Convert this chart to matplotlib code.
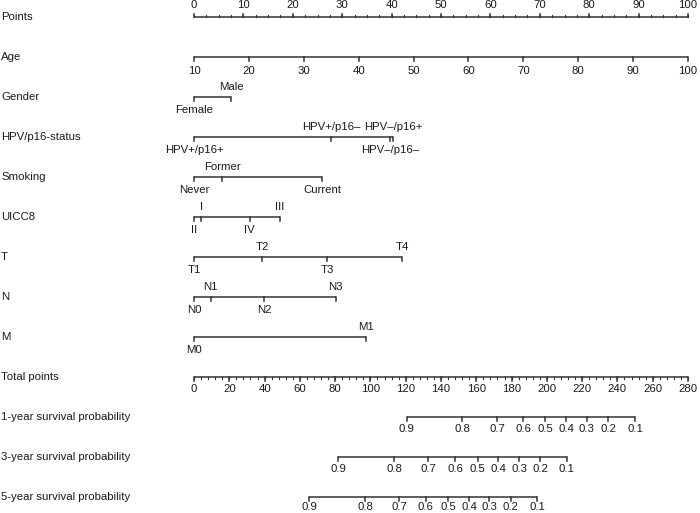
import matplotlib
matplotlib.use('Agg')
import matplotlib.pyplot as plt
import numpy as np

plt.rcParams['font.family'] = ['Liberation Sans', 'DejaVu Sans']

# nomogram rows (top to bottom)
row_names = ['Points', 'Age', 'Gender', 'HPV/p16-status', 'Smoking', 'UICC8',
             'T', 'N', 'M', 'Total points', '1-year survival probability',
             '3-year survival probability', '5-year survival probability']

points_ticks = np.arange(0, 101, 10)
age_values = np.arange(10, 101, 10)

gender_levels = ['Female', 'Male']
gender_points = [0, 7.5]
hpv_levels = ['HPV+/p16+', 'HPV+/p16\u2013', 'HPV\u2013/p16\u2013', 'HPV\u2013/p16+']
hpv_points = [0, 27.7, 39.7, 40.3]
smoking_levels = ['Never', 'Former', 'Current']
smoking_points = [0, 5.7, 26.0]
uicc_levels = ['II', 'I', 'IV', 'III']
uicc_points = [0, 1.5, 11.3, 17.4]
t_levels = ['T1', 'T2', 'T3', 'T4']
t_points = [0, 13.8, 26.9, 42.2]
n_levels = ['N0', 'N1', 'N2', 'N3']
n_points = [0, 3.4, 14.2, 28.7]
m_levels = ['M0', 'M1']
m_points = [0, 34.8]

total_ticks = np.arange(0, 281, 20)
total_max = 280

surv_labels = [0.9, 0.8, 0.7, 0.6, 0.5, 0.4, 0.3, 0.2, 0.1]
surv1_total = [120.6, 152.1, 172.0, 186.7, 199.0, 210.9, 222.6, 234.9, 250.0]
surv3_total = [81.8, 113.6, 132.9, 148.0, 160.8, 172.5, 184.2, 196.1, 211.3]
surv5_total = [65.4, 96.9, 116.2, 131.3, 144.2, 155.9, 167.4, 179.5, 194.6]

# figure: x in "points" units, y in row units
W, H = 700, 513
x0_px, x100_px = 194, 688
ppx = (x100_px - x0_px) / 100.0   # pixels per point
row0_px, row_px = 17, 40

fig = plt.figure(figsize=(W / 100, H / 100), dpi=100)
ax = fig.add_axes([0, 0, 1, 1])
ax.set_xlim(-x0_px / ppx, (W - x0_px) / ppx)
ax.set_ylim((H - row0_px) / row_px, -row0_px / row_px)
ax.axis('off')

px = 1.0 / row_px          # one pixel in y data units
line_col = '#333333'
txt_col = '#1a1a1a'
fs = 8.2


def scale(row, xs, labels, up=False, label_off=13, minor=None, alternate=False):
    xs = np.asarray(xs, dtype=float)
    ax.plot([xs.min(), xs.max()], [row, row], color=line_col, lw=1.1,
            solid_capstyle='butt')
    d = -1 if up else 1
    if minor is not None:
        for m in minor:
            ax.plot([m, m], [row, row + d * 2 * px], color=line_col, lw=0.8)
    order = np.argsort(xs, kind='stable')
    rank = np.empty(len(xs), int)
    rank[order] = np.arange(len(xs))
    for x, lab, r in zip(xs, labels, rank):
        ax.plot([x, x], [row, row + d * 3.5 * px], color=line_col, lw=1.1)
        if alternate:
            off = label_off if r % 2 == 0 else -10
        else:
            off = -12 if up else label_off
        ax.text(x, row + off * px, lab, ha='center', va='center',
                fontsize=fs, color=txt_col)


for i, name in enumerate(row_names):
    ax.text(-x0_px / ppx + 1 / ppx, i, name, ha='left', va='center',
            fontsize=fs, color=txt_col)

# Points
scale(0, points_ticks, [str(v) for v in points_ticks], up=True,
      minor=np.arange(0, 100.1, 2.5))
# Age
scale(1, (age_values - 10) / 90 * 100, [str(v) for v in age_values], label_off=14)
# factors
factors = [(gender_levels, gender_points), (hpv_levels, hpv_points),
           (smoking_levels, smoking_points), (uicc_levels, uicc_points),
           (t_levels, t_points), (n_levels, n_points), (m_levels, m_points)]
for k, (levels, pts) in enumerate(factors):
    scale(2 + k, pts, levels, alternate=True)
# Total points
scale(9, total_ticks / total_max * 100, [str(v) for v in total_ticks],
      minor=np.arange(0, total_max + 0.1, 4) / total_max * 100, label_off=12)
# survival scales
for k, tot in enumerate([surv1_total, surv3_total, surv5_total]):
    scale(10 + k, np.asarray(tot) / total_max * 100,
          [f'{v:.1f}' for v in surv_labels], label_off=12 if k < 2 else 10)

fig.savefig('out.png', dpi=100)
